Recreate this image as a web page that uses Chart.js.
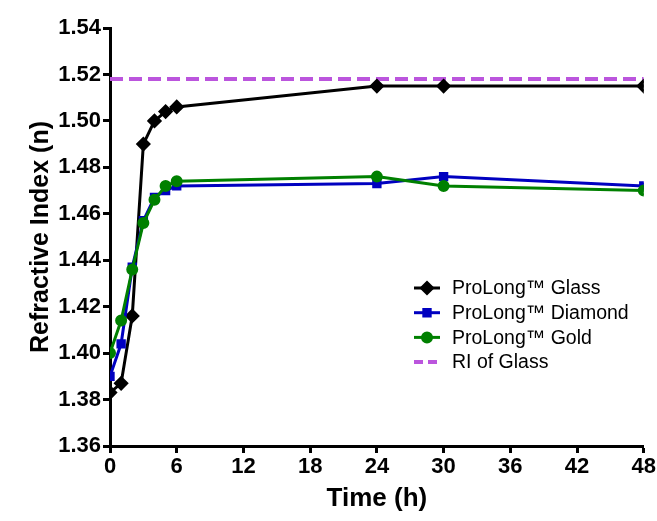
<!DOCTYPE html>
<html>
<head>
<meta charset="utf-8">
<script src="https://cdn.jsdelivr.net/npm/chart.js@4/dist/chart.umd.min.js"></script>
<style>
  html, body { margin: 0; padding: 0; background: #fff; }
  #wrap { width: 657px; height: 521px; position: relative; }
</style>
</head>
<body>
<div id="wrap"><canvas id="riChart"></canvas></div>
<script>
var times = [0, 1, 2, 3, 4, 5, 6, 24, 30, 48];
var glass = [1.383, 1.387, 1.416, 1.490, 1.500, 1.504, 1.506, 1.515, 1.515, 1.515];
var diamond = [1.390, 1.404, 1.437, 1.457, 1.467, 1.470, 1.472, 1.473, 1.476, 1.472];
var gold = [1.400, 1.414, 1.436, 1.456, 1.466, 1.472, 1.474, 1.476, 1.472, 1.470];
var riGlass = 1.518;
var seriesNames = ['ProLong\u2122 Glass', 'ProLong\u2122 Diamond', 'ProLong\u2122 Gold', 'RI of Glass'];

var fontFam = '"Liberation Sans", Arial, sans-serif';

function toPoints(xs, ys) {
    return xs.map(function(x, i) { return { x: x, y: ys[i] }; });
}

// legend drawn inside the plot, lower right
var innerLegend = {
    id: 'innerLegend',
    afterDraw: function(chart) {
        var ctx = chart.ctx;
        var x0 = 414, y0 = 288, rowH = 24.7;
        ctx.save();
        chart.data.datasets.forEach(function(ds, i) {
            var y = y0 + i * rowH;
            ctx.strokeStyle = ds.borderColor;
            ctx.lineWidth = ds.borderWidth;
            ctx.setLineDash(ds.borderDash ? [9, 5] : []);
            ctx.beginPath();
            ctx.moveTo(x0, y);
            ctx.lineTo(x0 + 26, y);
            ctx.stroke();
            ctx.setLineDash([]);
            if (ds.pointRadius > 0) {
                Chart.helpers.drawPoint(ctx, {
                    pointStyle: ds.pointStyle,
                    radius: ds.pointRadius,
                    borderWidth: 1
                }, x0 + 13, y);
                ctx.fillStyle = ds.pointBackgroundColor;
                ctx.fill();
            }
            ctx.fillStyle = '#000';
            ctx.font = '19.5px ' + fontFam;
            ctx.textBaseline = 'middle';
            ctx.textAlign = 'left';
            ctx.fillText(ds.label, x0 + 38, y + 1);
        });
        ctx.restore();
    }
};

var ctx = document.getElementById('riChart').getContext('2d');
var riChart = new Chart(ctx, {
    type: 'line',
    data: {
        datasets: [{
            label: seriesNames[0],
            data: toPoints(times, glass),
            borderColor: '#000000',
            backgroundColor: '#000000',
            pointBackgroundColor: '#000000',
            pointBorderColor: '#000000',
            borderWidth: 3,
            pointStyle: 'rectRot',
            pointRadius: 5.5,
            order: 3
        }, {
            label: seriesNames[1],
            data: toPoints(times, diamond),
            borderColor: '#0000c0',
            backgroundColor: '#0000c0',
            pointBackgroundColor: '#0000c0',
            pointBorderColor: '#0000c0',
            borderWidth: 3,
            pointStyle: 'rect',
            pointRadius: 4.5,
            order: 2
        }, {
            label: seriesNames[2],
            data: toPoints(times, gold),
            borderColor: '#008000',
            backgroundColor: '#008000',
            pointBackgroundColor: '#008000',
            pointBorderColor: '#008000',
            borderWidth: 3,
            pointStyle: 'circle',
            pointRadius: 4.5,
            order: 1
        }, {
            label: seriesNames[3],
            data: [{ x: 0, y: riGlass }, { x: 48, y: riGlass }],
            borderColor: '#bb55dd',
            backgroundColor: '#bb55dd',
            borderWidth: 4,
            borderDash: [13, 6],
            pointRadius: 0,
            order: 4
        }]
    },
    options: {
        responsive: true,
        maintainAspectRatio: false,
        animation: false,
        layout: {
            padding: { top: 28, right: 12, left: 26, bottom: 7 }
        },
        plugins: {
            legend: { display: false },
            tooltip: { enabled: false },
            title: { display: false }
        },
        scales: {
            x: {
                type: 'linear',
                min: 0,
                max: 48,
                afterFit: function(scale) { scale.height = 68; },
                grid: {
                    drawOnChartArea: false,
                    drawTicks: true,
                    tickLength: 7,
                    tickWidth: 3,
                    tickColor: '#000'
                },
                border: { display: true, color: '#000', width: 3 },
                ticks: {
                    stepSize: 6,
                    color: '#000',
                    padding: 1,
                    maxRotation: 0,
                    font: { family: fontFam, size: 22, weight: 'bold' }
                },
                title: {
                    display: true,
                    text: 'Time (h)',
                    color: '#000',
                    padding: 0,
                    font: { family: fontFam, size: 26, weight: 'bold' }
                }
            },
            y: {
                min: 1.36,
                max: 1.54,
                afterFit: function(scale) { scale.width = 84; },
                grid: {
                    drawOnChartArea: false,
                    drawTicks: true,
                    tickLength: 7,
                    tickWidth: 3,
                    tickColor: '#000'
                },
                border: { display: true, color: '#000', width: 3 },
                ticks: {
                    stepSize: 0.02,
                    color: '#000',
                    padding: 2,
                    callback: function(v) { return v.toFixed(2); },
                    font: { family: fontFam, size: 22, weight: 'bold' }
                },
                title: {
                    display: true,
                    text: 'Refractive Index (n)',
                    color: '#000',
                    padding: 0,
                    font: { family: fontFam, size: 25, weight: 'bold' }
                }
            }
        }
    },
    plugins: [innerLegend]
});
</script>
</body>
</html>
